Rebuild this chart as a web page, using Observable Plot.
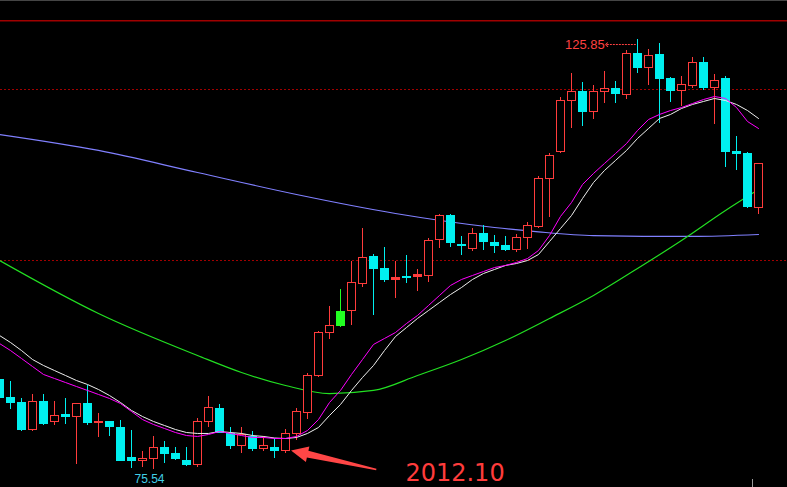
<!DOCTYPE html>
<html><head><meta charset="utf-8">
<script src="https://cdn.jsdelivr.net/npm/d3@7"></script>
<script src="https://cdn.jsdelivr.net/npm/@observablehq/plot@0.6"></script>
<style>
html,body{margin:0;padding:0;background:#000;overflow:hidden}
#chart{position:relative;width:787px;height:487px;background:#000}
#chart::before{content:"";position:absolute;left:0;top:0;width:787px;height:1px;background:#454545;z-index:2}
#chart svg{display:block}
</style></head><body><div id="chart"></div>
<script>
// candle index (-1 is the partly visible bar at the left edge)
const idx = d3.range(-1, 69);
const open  = [86.08,83.98,83.39,80.15,83.47,81.09,81.99,81.72,83.24,81.02,81.17,80.47,76.96,76.53,76.76,78.09,77.43,76.61,76.06,81.09,82.69,79.73,78.28,79.45,77.93,78.13,77.70,79.73,82.14,86.47,91.54,92.28,94.12,97.28,100.47,99.06,97.74,98.13,98.05,98.16,102.42,105.26,101.87,101.32,103.16,102.10,101.75,101.20,102.61,103.89,109.56,112.67,118.68,119.73,117.35,119.73,120.08,119.38,124.18,122.49,124.09,121.29,119.80,120.39,123.16,120.15,121.29,112.75,112.51,106.12];
const high  = [86.32,85.85,83.82,84.33,84.33,83.47,83.86,83.26,85.38,82.11,81.20,81.29,80.12,77.66,79.42,78.83,78.09,78.09,81.52,84.09,83.16,80.47,80.47,80.00,79.45,79.18,80.20,82.69,86.75,91.70,94.62,96.61,99.88,103.74,100.70,101.52,99.88,100.58,98.95,102.61,105.38,105.38,102.81,103.74,104.06,102.89,102.81,103.04,104.41,109.86,112.48,119.03,121.87,120.82,120.47,122.11,120.94,124.60,125.85,124.68,125.34,121.40,121.52,123.74,123.74,121.75,121.52,114.50,112.63,111.35];
const low   = [83.63,82.61,80.03,80.03,80.74,80.74,80.85,76.18,80.74,79.33,79.45,76.53,75.71,75.79,75.54,76.29,76.61,75.94,75.82,80.43,79.73,77.93,77.46,77.70,77.70,76.88,77.46,78.95,81.44,86.35,90.80,92.20,92.40,96.88,93.57,97.46,95.59,97.35,96.41,97.46,101.44,101.56,100.62,101.09,101.20,100.78,101.09,100.97,101.32,103.80,105.06,112.48,115.47,115.71,116.53,118.33,118.40,118.87,121.91,120.43,116.06,118.51,118.05,120.15,119.92,115.94,110.91,110.56,106.12,105.41];
const close = [83.89,83.31,80.15,83.47,80.85,81.84,81.67,83.24,80.97,81.13,80.50,76.53,76.53,76.81,78.09,77.35,76.73,76.06,81.13,82.69,79.73,78.28,79.61,77.89,78.25,77.70,79.73,82.30,86.51,91.54,92.36,94.04,97.31,100.32,98.98,97.66,97.98,97.89,98.25,102.30,105.26,102.02,101.67,103.12,102.14,101.67,101.20,102.66,104.06,109.56,112.25,118.71,119.73,117.35,119.65,120.08,119.38,124.18,122.49,123.94,121.20,119.80,120.58,123.12,120.15,121.05,112.67,112.43,106.23,111.23];
const greenDays = [30];

// moving averages
const maWhite = [91.23,90.41,89.47,88.42,87.72,87.13,86.55,85.96,85.50,84.91,84.21,83.39,82.46,81.75,81.17,80.70,80.23,79.88,79.77,79.77,80.00,79.88,79.77,79.53,79.42,79.24,79.18,79.30,79.77,80.47,81.87,83.16,84.80,86.32,87.72,89.47,91.11,92.16,93.22,94.15,95.09,96.02,96.84,97.78,98.48,98.95,99.42,99.65,100.00,100.70,102.22,103.74,105.26,107.25,109.12,110.53,111.70,112.87,114.27,115.44,116.61,117.08,117.78,118.25,118.60,118.95,118.71,118.25,117.54,116.61];
const maMagenta = [90.29,89.47,88.54,87.60,86.67,86.20,85.73,85.26,84.80,84.33,83.86,83.27,82.34,81.40,80.82,80.35,79.88,79.53,79.42,79.65,80.00,79.77,79.53,79.30,79.30,79.18,79.18,79.42,80.12,81.40,83.39,84.80,86.67,88.42,90.18,90.88,91.58,92.63,93.57,94.74,95.91,97.08,97.78,98.25,98.71,99.18,99.42,99.77,100.23,101.17,102.92,105.15,106.78,108.89,110.18,111.35,112.51,113.68,115.20,116.49,117.08,117.54,117.89,118.36,118.83,119.18,118.95,117.89,116.26,115.44];
const maGreenIdx = [-1,8,17,21,25,29,33,37,41,45,49,53,57,61,65,68];
const maGreenVal = [100.00,93.80,88.89,86.90,85.38,84.44,84.80,86.55,88.42,90.64,93.22,95.91,99.06,102.34,105.85,108.30];
const maBlueIdx = [-1,8,17,26,35,44,48,53,62,68];
const maBlueVal = [114.74,112.87,110.29,107.72,105.50,103.86,103.35,102.92,102.81,103.04];

const gridLevels = [100, 120];
const panelTopLevel = 128.03;
const peakIndex = 57;
const lowIndex = 13;
const dateText = "2012.10";
const dateAnchor = {i: 35.9, v: 75.08};
const arrowTail = {i: 33.3, v: 75.5};
const arrowTip  = {i: 25.55, v: 77.72};
const peakArrow = {i1: 56.85, i2: 54.2, v: 125.26};
const cursorTick = {i: 67.45, v1: 74.35, v2: 73.0};

const candles = idx.map((i, k) => ({i, open: open[k], high: high[k], low: low[k], close: close[k]}));
const kind = d => greenDays.includes(d.i) ? "green" : (d.close >= d.open ? "up" : "down");
const RED = "#ff3c3c", CYAN = "#00f0f0", GREEN = "#22ff22";
const colorOf = d => ({up: RED, down: CYAN, green: GREEN})[kind(d)];

const ups = candles.filter(d => kind(d) === "up" && d.close - d.open >= 0.25);
const upDoji = candles.filter(d => kind(d) === "up" && d.close - d.open < 0.25);
const downs = candles.filter(d => kind(d) === "down");
const greens = candles.filter(d => kind(d) === "green");

function bigArrow(index, scales) {
  const x = scales.x, y = scales.y;
  const x0 = x(arrowTail.i), y0 = y(arrowTail.v), x1 = x(arrowTip.i), y1 = y(arrowTip.v);
  const dx = x1 - x0, dy = y1 - y0, L = Math.hypot(dx, dy), ux = dx / L, uy = dy / L, nx = -uy, ny = ux;
  const head = 17, hw = 8, sw0 = 0.8, sw1 = 3.5;
  const bx = x1 - ux * head, by = y1 - uy * head;
  const pts = [[x0 + nx*sw0, y0 + ny*sw0], [bx + nx*sw1, by + ny*sw1], [bx + nx*hw, by + ny*hw], [x1, y1],
               [bx - nx*hw, by - ny*hw], [bx - nx*sw1, by - ny*sw1], [x0 - nx*sw0, y0 - ny*sw0]];
  const p = document.createElementNS("http://www.w3.org/2000/svg", "polygon");
  p.setAttribute("points", pts.map(q => q.join(",")).join(" "));
  p.setAttribute("fill", "#ff4646");
  return p;
}

const crisp = {shapeRendering: "crispEdges"};
const chart = Plot.plot({
  width: 787, height: 487, margin: 0,
  x: {domain: [-10/11, 777/11], axis: null},
  y: {domain: [73.45, 130.409], axis: null},
  color: {type: "identity"},
  style: {background: "#000", color: "#fff"},
  marks: [
    Plot.ruleY([panelTopLevel], {stroke: "#a00000", strokeWidth: 1.5}),
    Plot.ruleY(gridLevels, {stroke: "#a00000", strokeDasharray: "2,2", strokeWidth: 1, ...crisp}),
    Plot.line(maBlueIdx.map((i, k) => ({i, v: maBlueVal[k]})), {x: "i", y: "v", stroke: "#8080ff", strokeWidth: 1.2, curve: "monotone-x"}),
    Plot.line(maGreenIdx.map((i, k) => ({i, v: maGreenVal[k]})), {x: "i", y: "v", stroke: "#22e022", strokeWidth: 1.2, curve: "monotone-x"}),
    Plot.ruleX(candles, {x: "i", y1: "low", y2: "high", stroke: colorOf, strokeWidth: 1, ...crisp}),
    Plot.rect(downs, {x1: d => d.i - 4.5/11, x2: d => d.i + 4.5/11, y1: "open", y2: "close", fill: CYAN, ...crisp}),
    Plot.rect(greens, {x1: d => d.i - 4.5/11, x2: d => d.i + 4.5/11, y1: "open", y2: "close", fill: GREEN, ...crisp}),
    Plot.rect(ups, {x1: d => d.i - 4/11, x2: d => d.i + 4/11, y1: "open", y2: "close", fill: "#000", stroke: RED, strokeWidth: 1, ...crisp}),
    Plot.rect(upDoji, {x1: d => d.i - 4/11, x2: d => d.i + 4/11, y1: "open", y2: "close", fill: RED, stroke: RED, strokeWidth: 1, ...crisp}),
    Plot.line(idx.map((i, k) => ({i, v: maWhite[k]})), {x: "i", y: "v", stroke: "#f0f0f0", strokeWidth: 1}),
    Plot.line(idx.map((i, k) => ({i, v: maMagenta[k]})), {x: "i", y: "v", stroke: "#ff00ff", strokeWidth: 1}),
    Plot.link([peakArrow], {x1: "i1", x2: "i2", y1: "v", y2: "v", stroke: "#ff4040", strokeDasharray: "2,1", markerEnd: "arrow"}),
    Plot.text([candles.find(d => d.i === peakIndex)], {x: d => peakArrow.i2, y: d => peakArrow.v, text: d => d.high.toFixed(2), textAnchor: "end", dx: -2, fill: "#ff4040", fontSize: 13, fontFamily: "Liberation Sans Narrow, Liberation Sans, Arial, sans-serif"}),
    Plot.text([candles.find(d => d.i === lowIndex)], {x: "i", y: "low", text: d => d.low.toFixed(2), dx: -4, dy: 10, fill: "#40d0e8", fontSize: 12, fontFamily: "Liberation Sans, Arial, sans-serif"}),
    Plot.ruleX([cursorTick], {x: "i", y1: "v1", y2: "v2", stroke: "#999", ...crisp}),
    bigArrow,
    Plot.text([dateAnchor], {x: "i", y: "v", text: d => dateText, textAnchor: "start", fill: "#ff3c3c", fontSize: 24, fontFamily: "DejaVu Sans, sans-serif"})
  ]
});
document.getElementById("chart").appendChild(chart);
</script></body></html>
